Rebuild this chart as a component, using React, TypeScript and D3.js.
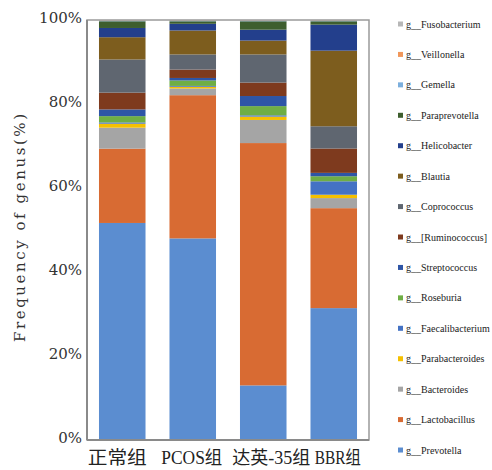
import React from "react";
import * as d3 from "d3";

const categories = ["正常组", "PCOS组", "达英-35组", "BBR组"];

// stacked bottom -> top
const genera = [
  "g__Prevotella",
  "g__Lactobacillus",
  "g__Bacteroides",
  "g__Parabacteroides",
  "g__Faecalibacterium",
  "g__Roseburia",
  "g__Streptococcus",
  "g__[Ruminococcus]",
  "g__Coprococcus",
  "g__Blautia",
  "g__Helicobacter",
  "g__Paraprevotella",
  "g__Gemella",
  "g__Veillonella",
  "g__Fusobacterium",
];

const prevotella = [51.7, 48.0, 13.0, 31.4];
const lactobacillus = [17.7, 34.1, 57.7, 23.8];
const bacteroides = [5.0, 1.6, 5.5, 2.4];
const parabacteroides = [0.95, 0.4, 0.8, 0.8];
const faecalibacterium = [0.3, 0.2, 0.3, 3.2];
const roseburia = [1.5, 1.3, 2.2, 1.2];
const streptococcus = [1.6, 0.6, 2.4, 0.8];
const ruminococcus = [4.0, 2.0, 3.2, 5.8];
const coprococcus = [7.9, 3.6, 6.7, 5.3];
const blautia = [5.3, 5.7, 3.3, 18.0];
const helicobacter = [2.2, 1.6, 2.6, 6.2];
const paraprevotella = [1.6, 0.6, 2.0, 0.8];
const gemella = [0.1, 0.1, 0.1, 0.1];
const veillonella = [0.1, 0.1, 0.1, 0.1];
const fusobacterium = [0.1, 0.1, 0.1, 0.1];

const seriesValues = [
  prevotella,
  lactobacillus,
  bacteroides,
  parabacteroides,
  faecalibacterium,
  roseburia,
  streptococcus,
  ruminococcus,
  coprococcus,
  blautia,
  helicobacter,
  paraprevotella,
  gemella,
  veillonella,
  fusobacterium,
];

const colors = [
  "#5B8DD0",
  "#D86B33",
  "#A5A5A5",
  "#F5C000",
  "#4472C4",
  "#6FAE45",
  "#2E55A6",
  "#7E3A1E",
  "#5F6670",
  "#7D5D1E",
  "#233F8C",
  "#3E5E2E",
  "#7CAFDD",
  "#F1975A",
  "#B7B7B7",
];

const yTicks = [0, 0.2, 0.4, 0.6, 0.8, 1.0];

export default function App() {
  const W = 492;
  const H = 470;
  const left = 87;
  const right = 369;
  const top = 20;
  const bottom = 440;

  const table = categories.map((c, i) => {
    const row: any = { cat: c };
    genera.forEach((g, j) => (row[g] = seriesValues[j][i]));
    return row;
  });

  const stack = d3.stack<any>().keys(genera).offset(d3.stackOffsetExpand);
  const layers = stack(table);

  const x = d3
    .scaleBand()
    .domain(categories)
    .range([left, right])
    .paddingInner(0.34)
    .paddingOuter(0.17);
  const y = d3.scaleLinear().domain([0, 1]).range([bottom, top]);
  const color = d3.scaleOrdinal<string>().domain(genera).range(colors);

  const legendTop = 24;
  const legendStep = 30.43;
  const legendOrder = genera.slice().reverse();

  const labelShift = [-5, -1, 8, 4];
  const labelLen = [59, 61, 78, 46];

  return (
    <svg
      width={W}
      height={H}
      style={{ position: "absolute", left: 0, top: 0, background: "#fff" }}
    >
      {layers.map((layer) => (
        <g key={layer.key} fill={color(layer.key)}>
          {layer.map((d, i) => (
            <rect
              key={i}
              x={x(categories[i])}
              width={x.bandwidth()}
              y={y(d[1])}
              height={Math.max(0, y(d[0]) - y(d[1]))}
            />
          ))}
        </g>
      ))}

      <rect
        x={left}
        y={top}
        width={right - left}
        height={bottom - top}
        fill="none"
        stroke="#9a9a9a"
        strokeWidth={1.5}
      />
      <line x1={left} x2={left} y1={top} y2={bottom} stroke="#8a8a8a" strokeWidth={2} />
      <line x1={left} x2={right} y1={bottom} y2={bottom} stroke="#8a8a8a" strokeWidth={2} />

      {yTicks.map((t) => (
        <text
          key={t}
          x={82}
          y={y(t) - 2}
          textAnchor="end"
          dominantBaseline="central"
          fontFamily="DejaVu Serif, serif"
          fontSize={15}
          fill="#333"
        >
          {d3.format(".0%")(t)}
        </text>
      ))}

      <text
        transform={`translate(20,228) rotate(-90)`}
        textAnchor="middle"
        dominantBaseline="central"
        fontFamily="DejaVu Serif, serif"
        fontSize={15}
        fill="#333"
        textLength={228}
        lengthAdjust="spacing"
      >
        Frequency of genus(%)
      </text>

      {categories.map((c, i) => (
        <text
          key={c}
          x={(x(c) as number) + x.bandwidth() / 2 + labelShift[i]}
          y={458}
          textAnchor="middle"
          dominantBaseline="central"
          fontFamily="Liberation Serif, 'Noto Sans CJK SC', serif"
          fontSize={18}
          fill="#222"
          textLength={labelLen[i]}
          lengthAdjust="spacingAndGlyphs"
        >
          {c}
        </text>
      ))}

      {legendOrder.map((g, i) => {
        const ly = legendTop + i * legendStep;
        return (
          <g key={g}>
            <rect x={398} y={ly - 2.5} width={5} height={5} fill={color(g)} />
            <text
              x={406}
              y={ly}
              dominantBaseline="central"
              fontFamily="Liberation Serif, serif"
              fontSize={10}
              fill="#222"
            >
              {g}
            </text>
          </g>
        );
      })}
    </svg>
  );
}
